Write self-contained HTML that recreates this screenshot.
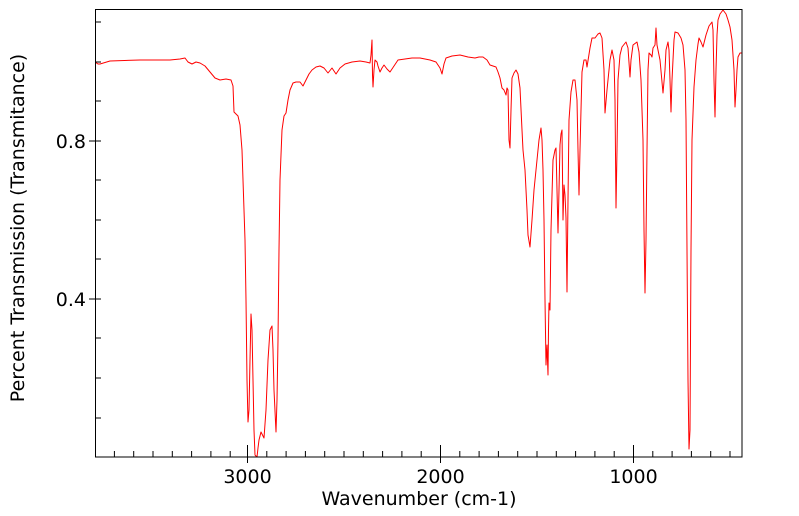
<!DOCTYPE html>
<html><head><meta charset="utf-8"><style>
body{margin:0;background:#fff;}
svg{display:block;font-family:"DejaVu Sans","Liberation Sans",sans-serif;}
</style></head><body>
<svg width="799" height="516" viewBox="0 0 799 516" xmlns="http://www.w3.org/2000/svg">
<rect x="0" y="0" width="799" height="516" fill="#fff"/>
<defs><clipPath id="c"><rect x="95" y="9.5" width="647" height="447.5"/></clipPath></defs>
<g clip-path="url(#c)">
<polyline fill="none" stroke="#ff0000" stroke-width="1" stroke-linejoin="round" points="
95,62 98,64 100,64 110,61 140,60 170,60 180,59 185,58 188,62 192,64 196,62 200,63 205,66 210,72 215,78 220,80 226,79 231,80 233,86 234,112 238,116 240,125 242,150 243,180 245,240 246,300 247,380 248,422 249,410 250,360 251,314 252,330 253,380 254,430 255,455 257,457 258,448 259,440 261,432 263,436 264,438 266,410 268,360 270,330 272,326 273,350 274,390 276,432 277,400 278,340 279,250 280,180 282,130 284,116 286,113 288,100 290,90 293,83 296,82 300,82 303,86 306,80 309,74 312,70 316,67 320,66 324,68 328,73 332,68 336,74 340,68 345,64 352,62 360,61 366,62 370,63 371,55 372,40 372.5,75 373,87 374,70 375,60 377,62 378,66 380,72 382,68 384,65 387,69 390,72 394,66 398,60 405,59 412,58 420,58 430,60 436,62 440,68 442,74 444,64 446,58 452,56 460,55 468,57 475,58 479,57 483,57 487,60 490,65 493,66 496,67 498,72 500,78 502,88 504,90 506,95 507,88 508,90 509,140 510,148 511,110 512,78 514,73 516,70 518,74 520,88 522,130 523,150 525,170 527,210 528,235 530,247 532,220 534,190 537,160 539,140 541,128 542,140 543,170 544,220 545,300 546,365 547,345 548,375 548.5,330 549,303 550,310 551,230 553,160 555,150 556,148 557,190 558,233 559,190 560,145 561,134 562,130 563,220 564,185 565,195 566,218 567,292 568,200 569,120 571,92 573,80 575,80 577,100 578,150 579,195 580,150 581,110 582,72 584,60 586,60 587,67 590,48 592,38 595,38 598,34 600,33 602,38 604,70 605,113 607,90 610,60 612,50 614,60 615,100 616,208 617,150 618,80 620,55 622,47 626,42 628,48 630,77 631,60 633,45 637,42 639,52 641,80 643,140 644,230 645,293 646,240 647,150 648,70 649,53 651,55 652,57 653,48 655,45 656,28 657,45 660,60 663,93 665,70 666,50 668,42 669,50 670,80 671,112 672,80 674,40 675,32 678,33 681,38 683,45 685,70 686,120 687,250 688,380 689,449 690,430 691,250 692,140 694,87 696,60 698,44 699,38 701,42 703,47 706,35 709,26 712,22 713,30 714,80 715,117 716,70 717,35 718,20 720,14 723,10 726,14 728,20 730,27 732,40 734,70 735,107 736,90 737,70 738,57 740,53 742,53"/>
</g>
<g stroke="#000" stroke-width="1" fill="none">
<rect x="95.5" y="9.5" width="646.5" height="447.5"/>
</g>
<g stroke="#000" stroke-width="1">
<line x1="95" y1="22" x2="101" y2="22"/><line x1="95" y1="62" x2="101" y2="62"/><line x1="95" y1="101" x2="101" y2="101"/>
<line x1="89" y1="141" x2="101" y2="141"/>
<line x1="95" y1="180" x2="101" y2="180"/><line x1="95" y1="220" x2="101" y2="220"/><line x1="95" y1="259" x2="101" y2="259"/>
<line x1="89" y1="299" x2="101" y2="299"/>
<line x1="95" y1="338" x2="101" y2="338"/><line x1="95" y1="378" x2="101" y2="378"/><line x1="95" y1="418" x2="101" y2="418"/>
</g>
<g stroke="#000" stroke-width="1">
<line x1="114.4" y1="457" x2="114.4" y2="451"/><line x1="133.7" y1="457" x2="133.7" y2="451"/><line x1="153" y1="457" x2="153" y2="451"/><line x1="172.3" y1="457" x2="172.3" y2="451"/><line x1="191.6" y1="457" x2="191.6" y2="451"/><line x1="210.9" y1="457" x2="210.9" y2="451"/><line x1="230.2" y1="457" x2="230.2" y2="451"/>
<line x1="247.5" y1="463" x2="247.5" y2="445"/>
<line x1="266.8" y1="457" x2="266.8" y2="451"/><line x1="286.1" y1="457" x2="286.1" y2="451"/><line x1="305.4" y1="457" x2="305.4" y2="451"/><line x1="324.7" y1="457" x2="324.7" y2="451"/><line x1="344" y1="457" x2="344" y2="451"/><line x1="363.3" y1="457" x2="363.3" y2="451"/><line x1="382.6" y1="457" x2="382.6" y2="451"/><line x1="401.9" y1="457" x2="401.9" y2="451"/><line x1="421.2" y1="457" x2="421.2" y2="451"/>
<line x1="440.5" y1="463" x2="440.5" y2="445"/>
<line x1="459.8" y1="457" x2="459.8" y2="451"/><line x1="479.1" y1="457" x2="479.1" y2="451"/><line x1="498.4" y1="457" x2="498.4" y2="451"/><line x1="517.7" y1="457" x2="517.7" y2="451"/><line x1="537" y1="457" x2="537" y2="451"/><line x1="556.3" y1="457" x2="556.3" y2="451"/><line x1="575.6" y1="457" x2="575.6" y2="451"/><line x1="594.9" y1="457" x2="594.9" y2="451"/><line x1="614.2" y1="457" x2="614.2" y2="451"/>
<line x1="633.5" y1="463" x2="633.5" y2="445"/>
<line x1="652.8" y1="457" x2="652.8" y2="451"/><line x1="672.1" y1="457" x2="672.1" y2="451"/><line x1="691.4" y1="457" x2="691.4" y2="451"/><line x1="710.7" y1="457" x2="710.7" y2="451"/><line x1="730" y1="457" x2="730" y2="451"/>
</g>
<g font-size="19" fill="#000">
<text x="86" y="148" text-anchor="end">0.8</text>
<text x="86" y="306" text-anchor="end">0.4</text>
<text x="247.5" y="483" text-anchor="middle">3000</text>
<text x="440.5" y="483" text-anchor="middle">2000</text>
<text x="633.5" y="483" text-anchor="middle">1000</text>
<text x="419" y="505" text-anchor="middle">Wavenumber (cm-1)</text>
<text transform="translate(24,228) rotate(-90)" text-anchor="middle">Percent Transmission (Transmitance)</text>
</g>
</svg>
</body></html>
